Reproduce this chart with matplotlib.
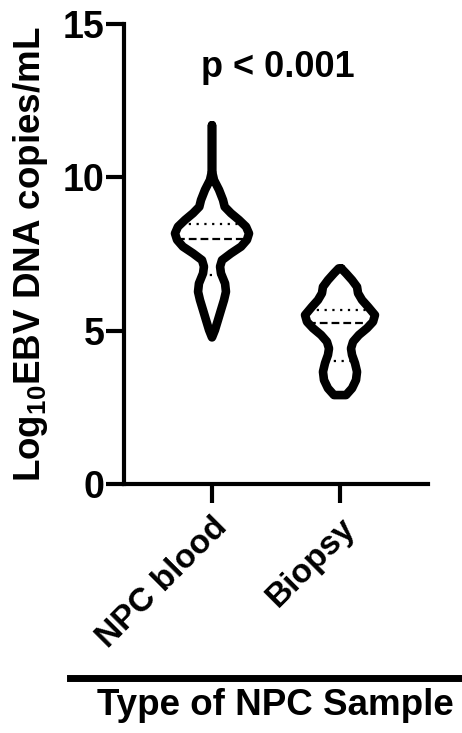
import numpy as np
import matplotlib
matplotlib.use("Agg")
import matplotlib.pyplot as plt
from matplotlib.lines import Line2D

plt.rcParams["font.family"] = ["Liberation Sans", "DejaVu Sans"]
plt.rcParams["font.weight"] = "bold"
plt.rcParams["mathtext.fontset"] = "custom"
plt.rcParams["mathtext.rm"] = "Liberation Sans:bold"
plt.rcParams["mathtext.bf"] = "Liberation Sans:bold"
plt.rcParams["mathtext.it"] = "Liberation Sans:bold"
plt.rcParams["mathtext.default"] = "rm"

# Data
categories = ["NPC blood", "Biopsy"]

# violin outlines: y levels (top -> bottom) and half-widths (x data units)
blood_y = [11.7, 10.2, 9.91, 9.59, 9.26, 9.04, 8.83, 8.61, 8.39, 8.17, 7.96, 7.74,
           7.52, 7.30, 7.09, 6.87, 6.54, 6.27, 6.00, 5.67, 5.35, 5.02, 4.78]
blood_hw = [0.0, 0.0, 0.016, 0.055, 0.086, 0.099, 0.148, 0.211, 0.266, 0.289, 0.273, 0.227,
            0.148, 0.078, 0.063, 0.070, 0.102, 0.109, 0.094, 0.070, 0.047, 0.023, 0.0]

biopsy_y = [7.03, 6.87, 6.65, 6.43, 6.22, 6.00, 5.78, 5.51, 5.29, 5.08, 4.86, 4.64,
            4.42, 4.21, 3.94, 3.66, 3.39, 3.12, 2.90]
biopsy_hw = [0.01, 0.047, 0.094, 0.133, 0.141, 0.172, 0.219, 0.273, 0.258, 0.211, 0.148, 0.102,
             0.086, 0.094, 0.117, 0.133, 0.125, 0.094, 0.047]

medians = [8.0, 5.25]
q1 = [6.81, 4.0]
q3 = [8.48, 5.67]

p_text = "p < 0.001"

W, H = 462, 733
fig = plt.figure(figsize=(W / 100, H / 100), dpi=100)
ax = fig.add_axes([124 / W, 1 - 484 / H, (428 - 124) / W, (484 - 24) / H])

profiles = [(blood_y, blood_hw), (biopsy_y, biopsy_hw)]
for i, (ys, hws) in enumerate(profiles):
    pos = i + 1
    ys = np.array(ys)
    hws = np.array(hws)
    xs = np.concatenate([pos + hws, (pos - hws)[::-1], [pos + hws[0]]])
    yy = np.concatenate([ys, ys[::-1], [ys[0]]])
    ax.fill(xs, yy, color="white", zorder=2)
    # quartile / median lines
    for q, style in [(medians[i], (0, (3.5, 1.8))), (q1[i], (0, (1, 2.5))), (q3[i], (0, (1, 2.5)))]:
        w = np.interp(q, ys[::-1], hws[::-1])
        ax.plot([pos - w, pos + w], [q, q], color="black", lw=1.6, linestyle=style, zorder=3)
    ax.plot(xs, yy, color="black", lw=6.2, solid_joinstyle="round",
            solid_capstyle="round", zorder=4)

ax.set_xlim(0.3125, 2.6875)
ax.set_ylim(0, 15)
ax.set_yticks([0, 5, 10, 15])
ax.set_xticks([1, 2])
ax.set_xticklabels(categories, rotation=45, ha="right", va="top",
                   rotation_mode="anchor", fontsize=24, fontweight="bold")
ax.tick_params(axis="y", length=13, width=3, labelsize=27, pad=1)
ax.tick_params(axis="x", length=14, width=3, pad=6)
for lab in ax.get_yticklabels():
    lab.set_fontweight("bold")

for s in ["top", "right"]:
    ax.spines[s].set_visible(False)
for s in ["left", "bottom"]:
    ax.spines[s].set_linewidth(3)

ax.set_ylabel("Log$_{10}$EBV DNA copies/mL", fontsize=26.5, fontweight="bold", labelpad=9)

ax.text(1.515, 13.26, p_text, ha="center", va="baseline", fontsize=26, fontweight="bold")

fig.add_artist(Line2D([70 / W, 1.0], [1 - 678 / H, 1 - 678 / H], color="black", lw=5))
fig.text(275 / W, 1 - 715 / H, "Type of NPC Sample", ha="center", va="baseline",
         fontsize=26.5, fontweight="bold")

fig.savefig("out.png", dpi=100)
